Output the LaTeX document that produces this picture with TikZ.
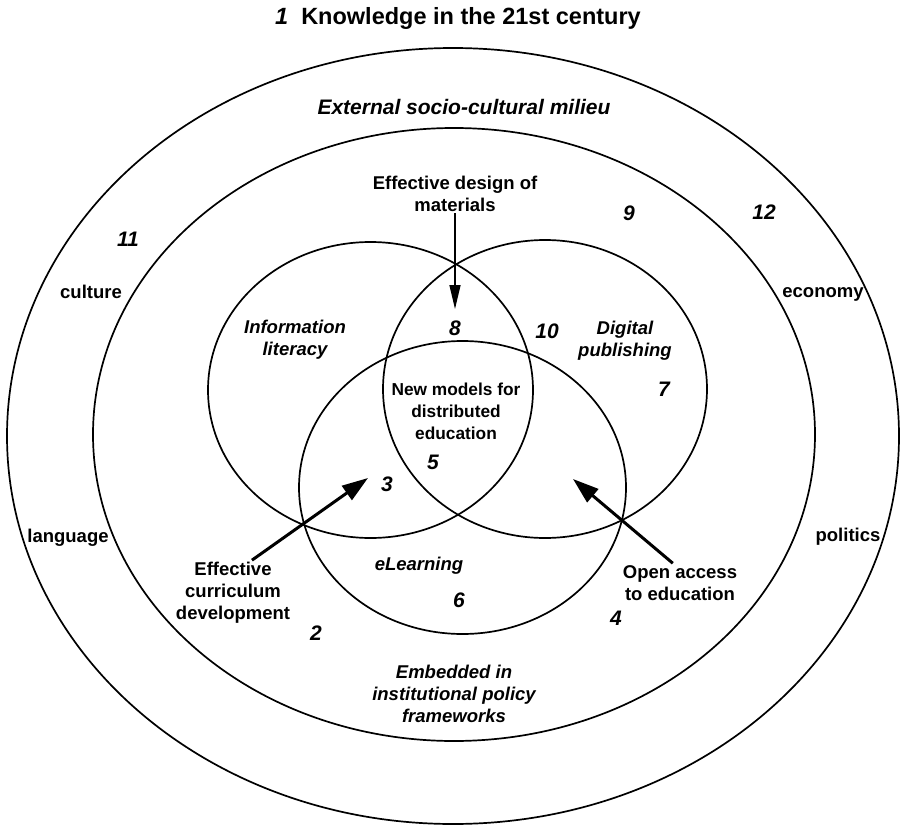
\documentclass[tikz,border=0pt]{standalone}
\usepackage{fontspec}
\setmainfont{Liberation Sans}
\usetikzlibrary{shapes.geometric,arrows.meta}
\begin{document}
\begin{tikzpicture}[x=1pt,y=-1pt,
  ring/.style={draw, ellipse, line width=1.7pt, inner sep=0pt},
  lbl/.style={font=\fontsize{18.5}{22}\selectfont\bfseries, align=center, inner sep=2pt},
  ilbl/.style={font=\fontsize{18.5}{22}\selectfont\bfseries\itshape, align=center, inner sep=2pt},
  num/.style={font=\fontsize{21}{24}\selectfont\bfseries\itshape, inner sep=1pt},
  thinarrow/.style={line width=1.5pt, -{Triangle[length=24pt,width=11pt]}},
  thickarrow/.style={line width=3pt, -{Triangle[length=26pt,width=17pt]}}]
\useasboundingbox (0,0) rectangle (903,827);

% nested context rings
\node[ring, minimum width=892pt, minimum height=776pt] (outer) at (453,436) {};
\node[ring, minimum width=722pt, minimum height=613pt] (inner) at (454,434.5) {};

% three overlapping fields
\node[ring, minimum width=325pt, minimum height=296pt] (info) at (370.5,390) {};
\node[ring, minimum width=324pt, minimum height=298pt] (digital) at (545,389) {};
\node[ring, minimum width=327pt, minimum height=293pt] (elearn) at (462.5,487.5) {};

% title
\node[font=\fontsize{23.5}{26}\selectfont\bfseries] (title) at (458,18)
  {{\itshape 1}\hspace{13pt}Knowledge in the 21st century};

% outer ring labels
\node[font=\fontsize{21}{24}\selectfont\bfseries\itshape] (milieu) at (464,107) {External socio-cultural milieu};
\node[lbl] (culture) at (91,292) {culture};
\node[lbl] (language) at (68,538) {language};
\node[lbl] (economy) at (823,294) {economy};
\node[lbl] (politics) at (848,537) {politics};

% inner ring labels
\node[lbl] (design) at (455,193.5) {Effective design of\\materials};
\node[ilbl] (policy) at (454,694) {Embedded in\\institutional policy\\frameworks};
\node[lbl] (curric) at (233,593) {Effective\\curriculum\\development};
\node[lbl] (open) at (680,583) {Open access\\to education};

% field labels
\node[ilbl] (infolbl) at (295,339.5) {Information\\literacy};
\node[ilbl] (digitallbl) at (625,340.5) {Digital\\publishing};
\node[ilbl] (elearnlbl) at (419,566) {eLearning};
\node[font=\fontsize{17.3}{22}\selectfont\bfseries, align=center] (core) at (456,411)
  {New models for\\distributed\\education};

% region numbers
\node[num] (n11) at (128,239) {11};
\node[num] (n9) at (629,213) {9};
\node[num] (n12) at (764,212) {12};
\node[num] (n8) at (455,328) {8};
\node[num] (n10) at (547,331) {10};
\node[num] (n7) at (664,389) {7};
\node[num] (n5) at (433,462) {5};
\node[num] (n3) at (387,484) {3};
\node[num] (n6) at (459,600) {6};
\node[num] (n2) at (316,633) {2};
\node[num] (n4) at (616,618) {4};

% arrows
\coordinate (designtip) at (455,309);
\coordinate (curtip) at (368,478);
\coordinate (opentip) at (573,479);
\draw[thinarrow] (design.south) -- (designtip);
\draw[thickarrow] (curric.60) -- (curtip);
\draw[thickarrow] (open.110) -- (opentip);
\end{tikzpicture}
\end{document}
